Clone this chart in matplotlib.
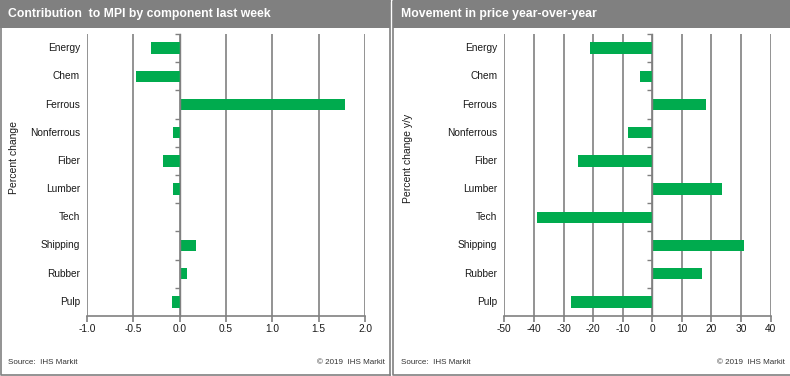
import matplotlib.pyplot as plt
from matplotlib.patches import Rectangle
from matplotlib.ticker import FixedLocator

plt.rcParams['font.family'] = ['Liberation Sans', 'DejaVu Sans']

categories = ["Energy", "Chem", "Ferrous", "Nonferrous", "Fiber",
              "Lumber", "Tech", "Shipping", "Rubber", "Pulp"]
contribution = [-0.31, -0.475, 1.78, -0.075, -0.18, -0.075, 0.0, 0.18, 0.083, -0.086]
yoy_movement = [-21, -4, 18.2, -8.1, -25, 23.5, -38.9, 31, 16.8, -27.4]

left_ticks = [-1.0, -0.5, 0.0, 0.5, 1.0, 1.5, 2.0]
right_ticks = [-50, -40, -30, -20, -10, 0, 10, 20, 30, 40]

W, H = 790, 376
GREEN = "#00AB4E"
GRAY = "#808080"
TXT = "#1a1a1a"

fig = plt.figure(figsize=(W / 100, H / 100), dpi=100)


def px_rect(x0, y0, x1, y1, **kw):
    # rectangle in pixel coords measured from the top-left corner
    fig.patches.append(Rectangle((x0 / W, 1 - y1 / H), (x1 - x0) / W, (y1 - y0) / H,
                                 transform=fig.transFigure, **kw))


def px_line(xs, ys):
    fig.add_artist(plt.Line2D([x / W for x in xs], [1 - y / H for y in ys],
                              color=GRAY, lw=1.2, transform=fig.transFigure))


def panel(x0, x1, title, values, ticks, fmt, ylabel, ylabel_x, ax_x0, ax_x1, right_border):
    px_line([x1 if right_border else W + 2, x0 + 0.5, x0 + 0.5,
             x1 if right_border else W + 2], [0.5, 0.5, H - 1.5, H - 1.5])
    if right_border:
        px_line([x1, x1], [0.5, H - 1.5])
    px_rect(x0, 0, x1 + 0.5, 28, facecolor=GRAY, edgecolor="none")
    fig.text((x0 + 8) / W, 1 - 14.5 / H, title, color="white", fontsize=8.8,
             fontweight="bold", va="center", ha="left")

    ax = fig.add_axes([ax_x0 / W, 1 - 316 / H, (ax_x1 - ax_x0) / W, (316 - 34) / H])
    ypos = list(range(len(categories)))
    ax.barh(ypos, values, height=0.4, color=GREEN, zorder=2)
    ax.set_xlim(ticks[0], ticks[-1])
    ax.set_ylim(len(categories) - 0.5, -0.5)
    ax.set_xticks(ticks)
    ax.set_xticklabels([fmt(t) for t in ticks], fontsize=7.3, color=TXT)
    ax.grid(axis="x", color=GRAY, lw=1.2, zorder=0)
    for s in ("top", "right"):
        ax.spines[s].set_visible(False)
    ax.spines["bottom"].set_color(GRAY)
    ax.spines["bottom"].set_linewidth(1.2)
    ax.spines["left"].set_position(("data", 0))
    ax.spines["left"].set_color(GRAY)
    ax.spines["left"].set_linewidth(1.0)
    ax.spines["left"].set_zorder(3)
    ax.tick_params(axis="x", length=4, color=GRAY, width=1.2, pad=1.5)
    ax.set_yticks([])
    ax.yaxis.set_minor_locator(FixedLocator([i + 0.5 for i in ypos[:-1]] + [-0.5]))
    ax.tick_params(axis="y", which="minor", length=3.5, color=GRAY, width=1.0)
    for i, c in enumerate(categories):
        ax.text(-7 / (ax_x1 - ax_x0), i, c, transform=ax.get_yaxis_transform(),
                ha="right", va="center", fontsize=7.3, color=TXT)
    ax.set_facecolor("none")

    fig.text(ylabel_x / W, 1 - 158 / H, ylabel, rotation=90, fontsize=7.5,
             color=TXT, ha="center", va="center")
    fig.text((x0 + 8) / W, 1 - 363 / H, "Source:  IHS Markit", fontsize=5.8,
             color="#333333", ha="left", va="center")
    fig.text((x1 - 5) / W, 1 - 363 / H, "\u00a9 2019  IHS Markit", fontsize=5.8,
             color="#333333", ha="right", va="center")
    return ax


panel(0, 389.5, "Contribution  to MPI by component last week", contribution,
      left_ticks, lambda t: f"{t:.1f}", "Percent change", 14, 87, 365, True)
panel(392.5, 790, "Movement in price year-over-year", yoy_movement,
      right_ticks, lambda t: f"{t:d}", "Percent change y/y", 408, 504.3, 770.7, False)

fig.savefig("out.png", dpi=100)
